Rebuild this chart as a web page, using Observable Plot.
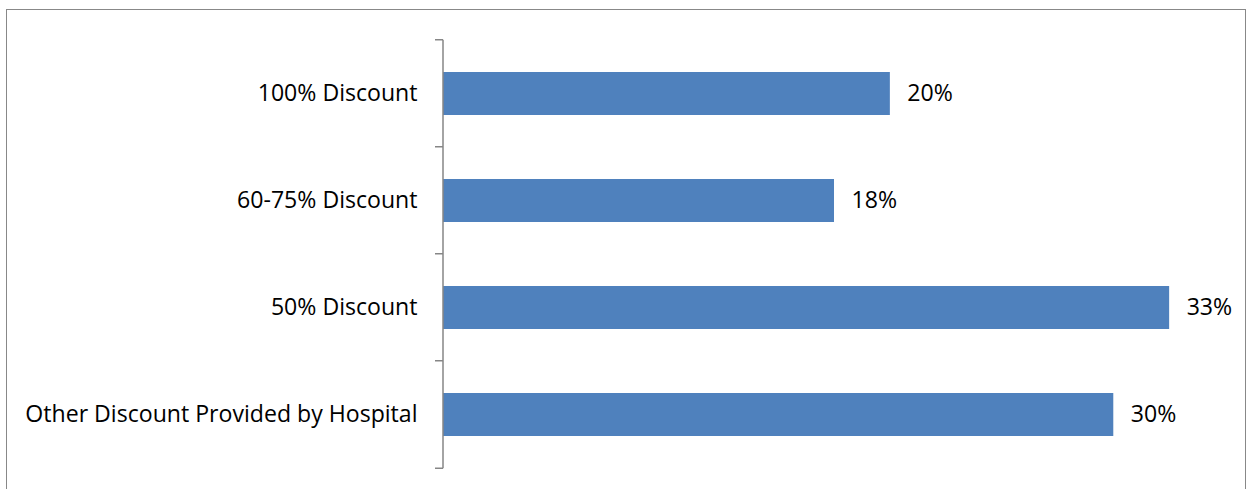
<!DOCTYPE html>
<html>
<head>
<meta charset="utf-8">
<script src="https://cdn.jsdelivr.net/npm/d3@7"></script>
<script src="https://cdn.jsdelivr.net/npm/@observablehq/plot@0.6"></script>
<style>
  html, body { margin: 0; padding: 0; background: #fff; }
  #chart { position: relative; width: 1252px; height: 489px; overflow: hidden; }
  #frame { position: absolute; left: 6px; top: 9px; width: 1240px; height: 520px;
           border: 1.5px solid #888; box-sizing: border-box; pointer-events: none; }
  #chart svg { position: absolute; left: 0; top: 0; }
</style>
</head>
<body>
<div id="chart"><div id="frame"></div></div>
<script>
// Discount categories, top to bottom
const categories = [
  "100% Discount",
  "60-75% Discount",
  "50% Discount",
  "Other Discount Provided by Hospital"
];
// Share of respondents (%)
const shares = [20, 17.5, 32.5, 30];

const data = categories.map((category, i) => ({category, share: shares[i]}));

const barColor = "#4F81BD";
const axisColor = "#868686";
const paddingInner = 0.6;
const fontSize = 23.1;

// Axis line plus small ticks at the band boundaries (between categories)
function boundaryTicks(index, scales, channels, dimensions) {
  const y = scales.y;
  const bw = y.bandwidth();
  const step = bw / (1 - paddingInner);
  const edges = categories.map(c => y(c) - (step - bw) / 2);
  edges.push(edges[edges.length - 1] + step);
  const x0 = dimensions.marginLeft;
  const g = d3.create("svg:g")
    .attr("stroke", axisColor)
    .attr("stroke-width", 1.5)
    .attr("fill", "none");
  g.append("line")
    .attr("x1", x0).attr("x2", x0)
    .attr("y1", edges[0]).attr("y2", edges[edges.length - 1]);
  g.selectAll("line.tick")
    .data(edges)
    .join("line")
    .attr("class", "tick")
    .attr("x1", x0 - 8).attr("x2", x0)
    .attr("y1", d => d).attr("y2", d => d);
  return g.node();
}

const chart = Plot.plot({
  width: 1252,
  height: 489,
  marginLeft: 443,
  marginRight: 27,
  marginTop: 39,
  marginBottom: 21,
  style: {
    fontFamily: "'Open Sans', sans-serif",
    fontSize: `${fontSize}px`,
    color: "#000",
    background: "transparent"
  },
  x: { domain: [0, 35], axis: null },
  y: { domain: categories, paddingInner, paddingOuter: paddingInner / 2, label: null },
  marks: [
    Plot.barX(data, { x: "share", y: "category", fill: barColor }),
    Plot.text(data, {
      x: "share",
      y: "category",
      text: d => `${Math.round(d.share)}%`,
      textAnchor: "start",
      dx: 17,
      fill: "#000",
      fontSize
    }),
    Plot.axisY({ tickSize: 0, tickPadding: 26, fontSize, fill: "#000", label: null }),
    boundaryTicks
  ]
});

document.getElementById("chart").prepend(chart);
</script>
</body>
</html>
